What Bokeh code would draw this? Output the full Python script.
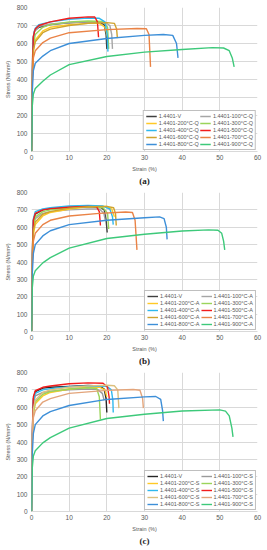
from bokeh.plotting import figure
from bokeh.layouts import column
from bokeh.models import Legend, LegendItem, Range1d, FixedTicker, LinearAxis
from bokeh.embed import file_html
from bokeh.resources import INLINE

# ---- series names & colours ----
series_keys = ["V", "100", "200", "300", "400", "500", "600", "700", "800", "900"]
colors_ab = ["#404040", "#A6A6A6", "#FFC926", "#9BD45A", "#2EB8EE", "#F21C1C",
             "#CFA32E", "#EA8346", "#3D8FD8", "#3DC97A"]
colors_c = ["#262626", "#9A9A9A", "#FFC926", "#9BD45A", "#2EB8EE", "#F21C1C",
            "#DCC07E", "#E3A47A", "#3D8FD8", "#3DC97A"]
suffixes = ["Q", "A", "S"]
captions = ["(a)", "(b)", "(c)"]

# ---- panel (a): quenched ----
a_V_x = [0, 0.2, 0.4, 0.8, 2, 5, 10, 15, 18, 19.3, 19.8, 20]
a_V_y = [0, 450, 620, 670, 690, 705, 715, 720, 718, 705, 650, 570]
a_100_x = [0, 0.2, 0.4, 0.8, 2, 5, 10, 15, 19.5, 20.8, 21.3, 21.5]
a_100_y = [0, 450, 620, 670, 695, 708, 715, 720, 718, 700, 650, 570]
a_200_x = [0, 0.2, 0.5, 1, 3, 5, 10, 15, 18, 19.5, 20.3]
a_200_y = [0, 400, 560, 620, 670, 690, 705, 712, 712, 690, 630]
a_300_x = [0, 0.2, 0.5, 1, 3, 5, 10, 15, 19, 20.2, 20.5]
a_300_y = [0, 420, 590, 650, 690, 705, 720, 725, 722, 690, 570]
a_400_x = [0, 0.2, 0.5, 1, 2, 5, 10, 15, 18, 19.5, 20.1, 20.3]
a_400_y = [0, 450, 640, 685, 705, 720, 735, 742, 740, 720, 650, 555]
a_500_x = [0, 0.2, 0.5, 1, 2, 5, 10, 15, 16.8, 17.5, 17.8]
a_500_y = [0, 450, 640, 680, 700, 720, 740, 748, 747, 720, 635]
a_600_x = [0, 0.2, 0.5, 1, 3, 5, 10, 15, 20, 22, 22.6, 22.8]
a_600_y = [0, 400, 560, 610, 660, 680, 700, 712, 716, 712, 680, 630]
a_700_x = [0, 0.2, 0.5, 1, 3, 5, 10, 20, 28, 30.5, 31.2, 31.6]
a_700_y = [0, 380, 520, 560, 605, 630, 660, 677, 683, 682, 650, 470]
a_800_x = [0, 0.2, 0.5, 1, 3, 5, 10, 20, 30, 35, 37.5, 38.5, 38.9]
a_800_y = [0, 330, 450, 490, 530, 560, 600, 628, 645, 650, 645, 600, 520]
a_900_x = [0, 0.2, 0.5, 1, 3, 5, 10, 20, 30, 40, 48, 51, 52.5, 53.3, 53.8]
a_900_y = [0, 250, 320, 350, 390, 425, 483, 528, 552, 567, 577, 575, 560, 520, 470]

# ---- panel (b): annealed ----
b_V_x = [0, 0.2, 0.5, 1, 3, 5, 10, 15, 18, 19.3, 19.8, 20.1]
b_V_y = [0, 450, 640, 675, 700, 708, 715, 720, 718, 700, 640, 570]
b_100_x = [0, 0.2, 0.5, 1, 3, 5, 10, 15, 18, 19.2, 19.6]
b_100_y = [0, 450, 610, 650, 680, 690, 700, 705, 705, 680, 640]
b_200_x = [0, 0.2, 0.5, 1, 3, 5, 10, 15, 20, 21.3, 22]
b_200_y = [0, 400, 560, 615, 665, 685, 705, 718, 720, 705, 660]
b_300_x = [0, 0.2, 0.5, 1, 3, 5, 10, 15, 19, 20.2, 20.5]
b_300_y = [0, 430, 600, 660, 690, 700, 712, 718, 712, 680, 590]
b_400_x = [0, 0.2, 0.5, 1, 3, 5, 10, 15, 19, 20.8, 21.5, 21.7]
b_400_y = [0, 450, 650, 690, 705, 712, 722, 725, 722, 705, 660, 615]
b_500_x = [0, 0.2, 0.5, 1, 3, 5, 10, 15, 17.3, 18, 18.3]
b_500_y = [0, 450, 640, 680, 700, 707, 715, 720, 717, 690, 610]
b_600_x = [0, 0.2, 0.5, 1, 3, 5, 10, 15, 20, 21.8, 22.3, 22.5]
b_600_y = [0, 420, 580, 630, 675, 690, 710, 718, 720, 712, 680, 610]
b_700_x = [0, 0.2, 0.5, 1, 3, 5, 10, 18, 25, 26.8, 27.5, 28]
b_700_y = [0, 380, 520, 565, 615, 640, 665, 680, 688, 685, 640, 470]
b_800_x = [0, 0.2, 0.5, 1, 3, 5, 10, 20, 30, 34, 35.2, 35.8, 36]
b_800_y = [0, 330, 450, 500, 550, 580, 615, 640, 655, 660, 650, 600, 530]
b_900_x = [0, 0.2, 0.5, 1, 3, 5, 10, 20, 30, 40, 47, 49.5, 50.5, 51, 51.3]
b_900_y = [0, 250, 320, 350, 395, 425, 480, 535, 560, 578, 585, 583, 565, 520, 470]

# ---- panel (c): slow cooled ----
c_V_x = [0, 0.2, 0.5, 1, 3, 5, 10, 15, 18, 19.3, 19.8, 20]
c_V_y = [0, 450, 650, 690, 710, 715, 720, 725, 723, 705, 650, 570]
c_100_x = [0, 0.2, 0.5, 1, 3, 5, 10, 15, 17.5, 18.8, 19.3]
c_100_y = [0, 450, 620, 665, 685, 692, 700, 705, 703, 680, 640]
c_200_x = [0, 0.2, 0.5, 1, 3, 5, 10, 15, 18, 19.5, 20]
c_200_y = [0, 400, 560, 620, 665, 685, 705, 715, 716, 700, 660]
c_300_x = [0, 0.2, 0.5, 1, 3, 5, 10, 15, 17.3, 18, 18.3]
c_300_y = [0, 400, 570, 630, 675, 690, 705, 712, 708, 660, 530]
c_400_x = [0, 0.2, 0.5, 1, 3, 5, 10, 15, 20, 21.2, 21.6, 21.7]
c_400_y = [0, 450, 640, 680, 700, 707, 718, 722, 720, 700, 640, 570]
c_500_x = [0, 0.2, 0.5, 1, 3, 5, 10, 15, 19, 20.2, 20.6, 20.7]
c_500_y = [0, 460, 660, 695, 715, 722, 735, 740, 738, 715, 660, 620]
c_600_x = [0, 0.2, 0.5, 1, 3, 5, 10, 15, 20, 22, 22.9, 23.2]
c_600_y = [0, 430, 590, 640, 685, 700, 715, 722, 727, 724, 700, 595]
c_700_x = [0, 0.2, 0.5, 1, 3, 5, 10, 20, 27, 28.8, 29.5, 29.7]
c_700_y = [0, 400, 540, 580, 630, 650, 680, 697, 702, 698, 650, 595]
c_800_x = [0, 0.2, 0.5, 1, 3, 5, 10, 20, 30, 33, 34.3, 34.8, 35]
c_800_y = [0, 330, 450, 500, 550, 575, 610, 645, 660, 662, 645, 580, 520]
c_900_x = [0, 0.2, 0.5, 1, 3, 5, 10, 20, 30, 40, 50, 51.5, 52.5, 53.2, 53.5]
c_900_y = [0, 250, 320, 350, 395, 425, 480, 535, 560, 578, 585, 578, 550, 480, 430]

x_ticks = [0, 10, 20, 30, 40, 50, 60]
y_ticks = [0, 100, 200, 300, 400, 500, 600, 700, 800]

panels = [
    [(a_V_x, a_V_y), (a_100_x, a_100_y), (a_200_x, a_200_y), (a_300_x, a_300_y),
     (a_400_x, a_400_y), (a_500_x, a_500_y), (a_600_x, a_600_y), (a_700_x, a_700_y),
     (a_800_x, a_800_y), (a_900_x, a_900_y)],
    [(b_V_x, b_V_y), (b_100_x, b_100_y), (b_200_x, b_200_y), (b_300_x, b_300_y),
     (b_400_x, b_400_y), (b_500_x, b_500_y), (b_600_x, b_600_y), (b_700_x, b_700_y),
     (b_800_x, b_800_y), (b_900_x, b_900_y)],
    [(c_V_x, c_V_y), (c_100_x, c_100_y), (c_200_x, c_200_y), (c_300_x, c_300_y),
     (c_400_x, c_400_y), (c_500_x, c_500_y), (c_600_x, c_600_y), (c_700_x, c_700_y),
     (c_800_x, c_800_y), (c_900_x, c_900_y)],
]

FONT = "Liberation Sans"
GRID = "#D9D9D9"
TXT = "#595959"


def make_panel(idx, height, top, bottom):
    p = figure(width=262, height=height, x_range=Range1d(0, 60), y_range=Range1d(0, 800),
               output_backend="svg", toolbar_location=None,
               min_border_left=31, min_border_right=5, min_border_top=top,
               min_border_bottom=bottom)
    p.outline_line_color = None
    p.background_fill_color = "white"

    p.xaxis.ticker = FixedTicker(ticks=x_ticks)
    p.yaxis.ticker = FixedTicker(ticks=y_ticks)
    for ax in (p.xaxis[0], p.yaxis[0]):
        ax.major_tick_line_color = None
        ax.minor_tick_line_color = None
        ax.major_tick_out = 0
        ax.major_tick_in = 0
        ax.minor_tick_out = 0
        ax.minor_tick_in = 0
        ax.major_label_text_font = FONT
        ax.major_label_text_font_size = "6.5px"
        ax.major_label_text_color = TXT
        ax.axis_label_text_font = FONT
        ax.axis_label_text_font_size = "5.5px"
        ax.axis_label_text_font_style = "normal"
        ax.axis_label_text_color = TXT
    p.xaxis.major_label_standoff = 3
    p.xaxis.axis_label_standoff = 3
    p.xaxis.axis_line_color = GRID
    p.yaxis.axis_line_color = None
    p.yaxis.major_label_standoff = 4
    p.yaxis.axis_label_standoff = 3
    p.xaxis.axis_label = "Strain (%)"
    p.yaxis.axis_label = "Stress (N/mm\u00b2)"
    p.xgrid.grid_line_color = GRID
    p.ygrid.grid_line_color = GRID
    p.xgrid.ticker = FixedTicker(ticks=x_ticks)
    p.ygrid.ticker = FixedTicker(ticks=y_ticks)

    # caption as an empty axis below the x-axis title
    cap = LinearAxis(ticker=FixedTicker(ticks=[]), axis_label=captions[idx],
                     axis_line_color=None, major_tick_out=0, major_tick_in=0,
                     minor_tick_out=0, minor_tick_in=0,
                     major_label_text_font_size="0px", major_label_standoff=0,
                     axis_label_standoff=1,
                     axis_label_text_font="Liberation Serif",
                     axis_label_text_font_style="bold",
                     axis_label_text_font_size="9px",
                     axis_label_text_color="#222222")
    p.add_layout(cap, "below")

    cols = colors_c if idx == 2 else colors_ab
    items = []
    for k, (xs, ys) in enumerate(panels[idx]):
        r = p.line(xs, ys, line_color=cols[k], line_width=1.4)
        lbl = "1.4401-V" if series_keys[k] == "V" else "1.4401-%s\u00b0C-%s" % (series_keys[k], suffixes[idx])
        items.append(LegendItem(label=lbl, renderers=[r]))

    leg = Legend(items=items, location="bottom_right", ncols=2, orientation="horizontal")
    leg.label_text_font = FONT
    leg.label_text_font_size = "5.5px"
    leg.label_text_color = TXT
    leg.label_height = 6
    leg.glyph_height = 6
    leg.glyph_width = 11
    leg.label_standoff = 2
    leg.spacing = 1
    leg.padding = 2
    leg.margin = 1
    leg.border_line_color = "#808080"
    leg.border_line_width = 1
    leg.background_fill_alpha = 1
    p.add_layout(leg, "center")
    return p


figs = [make_panel(0, 188, 7, 33), make_panel(1, 180, 4, 33), make_panel(2, 180, 4, 33)]
layout = column(*figs, spacing=0)
open("out.html", "w").write(file_html(layout, INLINE))
